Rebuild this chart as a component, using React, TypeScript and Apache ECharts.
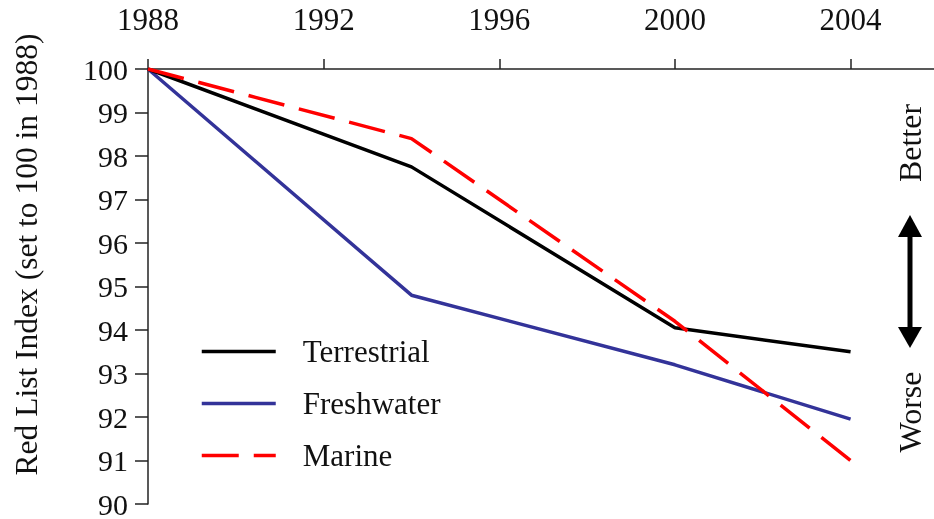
import React, { useEffect, useRef } from "react";
import * as echarts from "echarts";

const years = [1988, 1994, 2000, 2004];
const terrestrial = [100, 97.75, 94.05, 93.5];
const freshwater = [100, 94.8, 93.2, 91.95];
const marine = [100, 98.4, 94.2, 91.0];
const xTickYears = [1988, 1992, 1996, 2000, 2004];
const seriesNames = ["Terrestrial", "Freshwater", "Marine"];

export default function App() {
  const ref = useRef<HTMLDivElement>(null);
  useEffect(() => {
    if (!ref.current) return;
    const chart = echarts.init(ref.current, null, { renderer: "svg" });
    const pairs = (vals: number[]) => years.map((y, i) => [y, vals[i]]);
    chart.setOption({
      animation: false,
      grid: { left: 148, top: 69, right: 0, bottom: 11, containLabel: false },
      xAxis: {
        type: "value",
        position: "top",
        min: 1988,
        max: 2005.9,
        interval: 4,
        splitLine: { show: false },
        axisLine: { show: true, onZero: false, lineStyle: { color: "#222", width: 1.5 } },
        axisTick: {
          show: true,
          inside: false,
          length: 10,
          customValues: xTickYears,
          lineStyle: { color: "#222", width: 1.5 },
        },
        axisLabel: {
          customValues: xTickYears,
          margin: 34,
          fontFamily: "Liberation Serif",
          fontSize: 31,
          color: "#111",
          formatter: (v: number) => (xTickYears.indexOf(v) >= 0 ? String(v) : ""),
        },
      },
      yAxis: {
        type: "value",
        min: 90,
        max: 100,
        interval: 1,
        name: "Red List Index (set to 100 in 1988)",
        nameLocation: "middle",
        nameGap: 106,
        nameTextStyle: {
          fontFamily: "Liberation Serif",
          fontSize: 31.5,
          color: "#111",
          padding: [0, 0, 0, 64],
        },
        splitLine: { show: false },
        axisLine: { show: true, onZero: false, lineStyle: { color: "#222", width: 1.5 } },
        axisTick: { show: true, inside: false, length: 13, lineStyle: { color: "#222", width: 1.5 } },
        axisLabel: { margin: 20, fontFamily: "Liberation Serif", fontSize: 30, color: "#111" },
      },
      legend: {
        show: true,
        orient: "vertical",
        left: 195,
        top: 331,
        itemWidth: 74,
        itemHeight: 22,
        itemGap: 21,
        itemStyle: { opacity: 0 },
        lineStyle: { width: 3.5 },
        data: seriesNames,
        textStyle: {
          fontFamily: "Liberation Serif",
          fontSize: 31,
          color: "#111",
          padding: [0, 0, 0, 22],
        },
      },
      series: [
        {
          name: seriesNames[0],
          type: "line",
          data: pairs(terrestrial),
          symbol: "none",
          lineStyle: { color: "#000000", width: 3.5 },
          itemStyle: { color: "#000000" },
          z: 3,
        },
        {
          name: seriesNames[1],
          type: "line",
          data: pairs(freshwater),
          symbol: "none",
          lineStyle: { color: "#333399", width: 3.5 },
          itemStyle: { color: "#333399" },
          z: 2,
        },
        {
          name: seriesNames[2],
          type: "line",
          data: pairs(marine),
          symbol: "none",
          lineStyle: { color: "#ff0000", width: 3.5, type: [37, 15] },
          itemStyle: { color: "#ff0000" },
          z: 4,
        },
      ],
      graphic: [
        {
          type: "text",
          x: 910,
          y: 143,
          rotation: Math.PI / 2,
          style: {
            text: "Better",
            fontFamily: "Liberation Serif",
            fontSize: 32,
            fill: "#111",
            align: "center",
            verticalAlign: "middle",
          },
        },
        {
          type: "text",
          x: 910,
          y: 412,
          rotation: Math.PI / 2,
          style: {
            text: "Worse",
            fontFamily: "Liberation Serif",
            fontSize: 32,
            fill: "#111",
            align: "center",
            verticalAlign: "middle",
          },
        },
        {
          type: "line",
          shape: { x1: 910, y1: 230, x2: 910, y2: 332 },
          style: { stroke: "#000", lineWidth: 5 },
        },
        {
          type: "polygon",
          shape: { points: [[910, 215], [898, 237], [922, 237]] },
          style: { fill: "#000" },
        },
        {
          type: "polygon",
          shape: { points: [[910, 348], [898, 327], [922, 327]] },
          style: { fill: "#000" },
        },
      ],
    });
    return () => chart.dispose();
  }, []);
  return (
    <div ref={ref} style={{ position: "fixed", left: 0, top: 0, width: 934, height: 519 }} />
  );
}
